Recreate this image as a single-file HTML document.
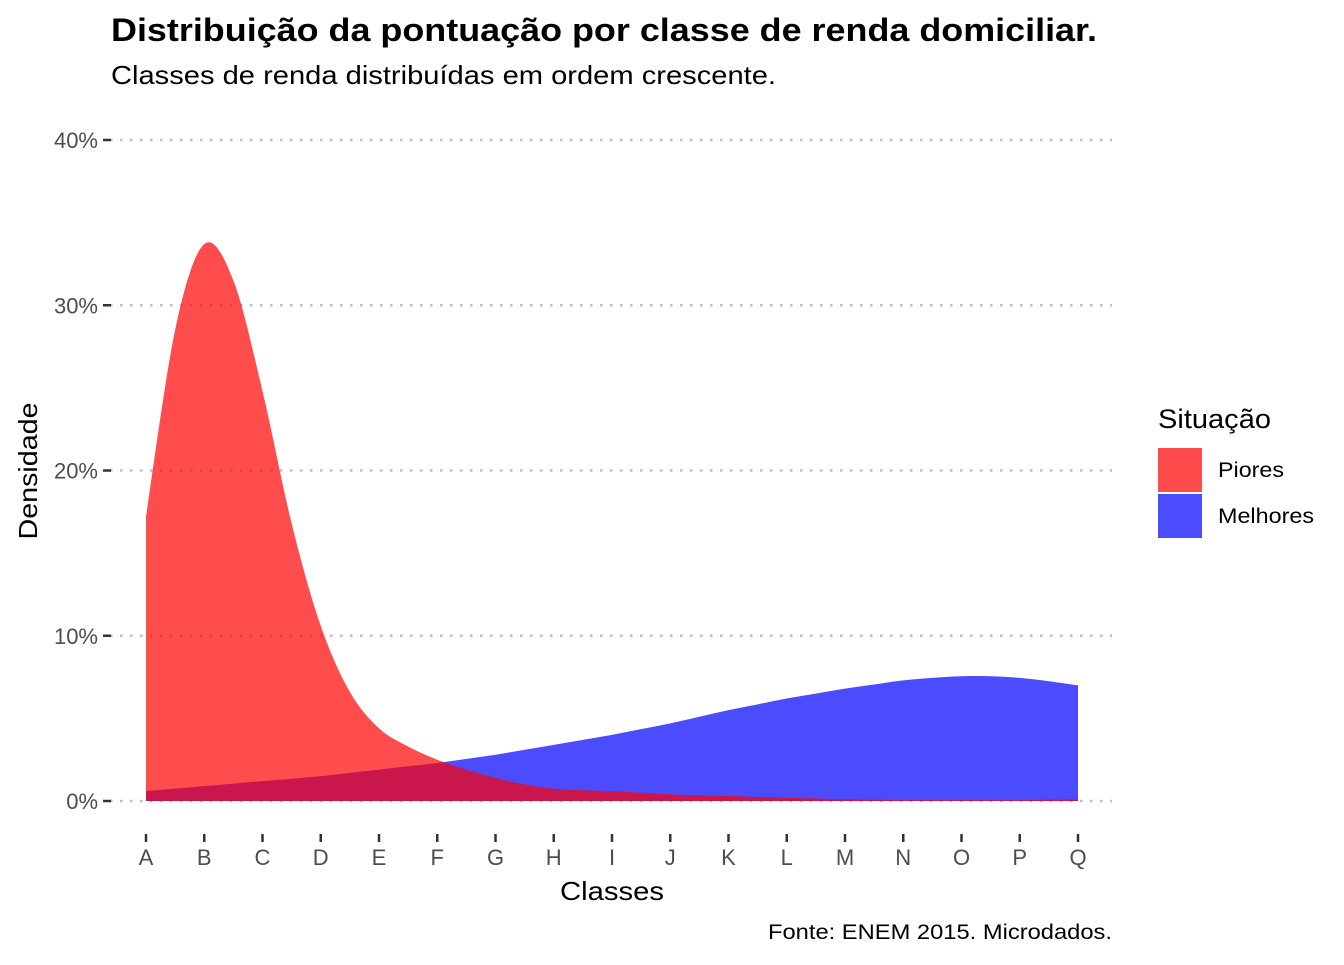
<!DOCTYPE html>
<html><head><meta charset="utf-8">
<style>
body{margin:0;background:#fff;font-family:"Liberation Sans",sans-serif;}
svg text{font-family:"Liberation Sans",sans-serif;}
</style></head>
<body>
<svg id="chart" width="1344" height="960" viewBox="0 0 1344 960">
  <text x="111" y="41" font-size="32" font-weight="bold" fill="#000" textLength="986" lengthAdjust="spacingAndGlyphs">Distribuição da pontuação por classe de renda domiciliar.</text>
  <text x="111" y="84" font-size="26" fill="#000" textLength="665" lengthAdjust="spacingAndGlyphs">Classes de renda distribuídas em ordem crescente.</text>
  <g id="grid"></g>
  <g id="areas"></g>
  <g id="axes"></g>
  <text transform="translate(37,471) rotate(-90)" text-anchor="middle" font-size="26" fill="#000" textLength="137" lengthAdjust="spacingAndGlyphs">Densidade</text>
  <text x="612" y="900" text-anchor="middle" font-size="26" fill="#000" textLength="104" lengthAdjust="spacingAndGlyphs">Classes</text>
  <text x="768" y="939" font-size="21" fill="#000" textLength="344" lengthAdjust="spacingAndGlyphs">Fonte: ENEM 2015. Microdados.</text>
  <g>
    <text x="1158" y="428" font-size="27" fill="#000" textLength="113" lengthAdjust="spacingAndGlyphs">Situação</text>
    <rect x="1158" y="448" width="44" height="44" fill="#ff4b4b"/>
    <text x="1218" y="477" font-size="21" fill="#000" textLength="66" lengthAdjust="spacingAndGlyphs">Piores</text>
    <rect x="1158" y="494" width="44" height="44" fill="#4b4bff"/>
    <text x="1218" y="523" font-size="21" fill="#000" textLength="96" lengthAdjust="spacingAndGlyphs">Melhores</text>
  </g>
</svg>
<script>
const categories = ["A","B","C","D","E","F","G","H","I","J","K","L","M","N","O","P","Q"];
const yTicks = [0,10,20,30,40];
// density (%) sampled at half-class steps (index 0 = A, 1 = A.5, 2 = B ...)
const piores = [17.2,28.5,33.7,31.5,24.8,16.8,10.6,6.6,4.4,3.3,2.5,1.9,1.4,1.0,0.75,0.65,0.6,0.5,0.4,0.35,0.3,0.25,0.2,0.15,0.1,0.08,0.05,0.05,0.05,0.05,0.05,0.08,0.1];
const melhores = [0.6,0.75,0.9,1.05,1.2,1.35,1.5,1.7,1.9,2.1,2.3,2.55,2.8,3.1,3.4,3.7,4.0,4.35,4.7,5.1,5.5,5.85,6.2,6.5,6.8,7.05,7.3,7.45,7.55,7.55,7.45,7.25,7.0];
const NS="http://www.w3.org/2000/svg";
const x = i => 146 + i*(1078-146)/16;
const y = v => 801 - v*(801-140)/40;
function mk(tag, attrs, parent){const e=document.createElementNS(NS,tag);for(const k in attrs)e.setAttribute(k,attrs[k]);parent.appendChild(e);return e;}
const grid=document.getElementById('grid'), axes=document.getElementById('axes'), areas=document.getElementById('areas');
yTicks.forEach(t=>{
  const g=mk('line',{x1:110,x2:1112,y1:y(t),y2:y(t),stroke:'#bdbdbd','stroke-width':2.5,'stroke-dasharray':'2.5 7.5'},grid);
  
  
  const tk=mk('line',{x1:103,x2:111,y1:y(t),y2:y(t),stroke:'#333','stroke-width':2.5},axes);
  
  
  const tl=mk('text',{x:98,y:y(t)+8,'text-anchor':'end','font-size':22,fill:'#4d4d4d'},axes);
  tl.textContent=t+'%';
  
  
});
categories.forEach((c,i)=>{
  const tk=mk('line',{x1:x(i),x2:x(i),y1:834,y2:842,stroke:'#333','stroke-width':2.5},axes);
  
  
  const tl=mk('text',{x:x(i),y:865,'text-anchor':'middle','font-size':22,fill:'#4d4d4d'},axes);
  tl.textContent=c;
  
  
});
function areaPath(vals){
  const pts=vals.map((v,k)=>[x(k/2),y(v)]);
  let d=`M${pts[0][0]},${y(0)} L${pts[0][0]},${pts[0][1]}`;
  for(let i=0;i<pts.length-1;i++){
    const p0=pts[Math.max(i-1,0)],p1=pts[i],p2=pts[i+1],p3=pts[Math.min(i+2,pts.length-1)];
    const c1=[p1[0]+(p2[0]-p0[0])/6,p1[1]+(p2[1]-p0[1])/6];
    const c2=[p2[0]-(p3[0]-p1[0])/6,p2[1]-(p3[1]-p1[1])/6];
    d+=` C${c1[0]},${c1[1]} ${c2[0]},${c2[1]} ${p2[0]},${p2[1]}`;
  }
  d+=` L${pts[pts.length-1][0]},${y(0)} Z`;
  return d;
}
const pb=mk('path',{d:areaPath(melhores),fill:'#0000ff','fill-opacity':0.7},areas);


const pr=mk('path',{d:areaPath(piores),fill:'#ff0000','fill-opacity':0.7},areas);


</script>
</body></html>
